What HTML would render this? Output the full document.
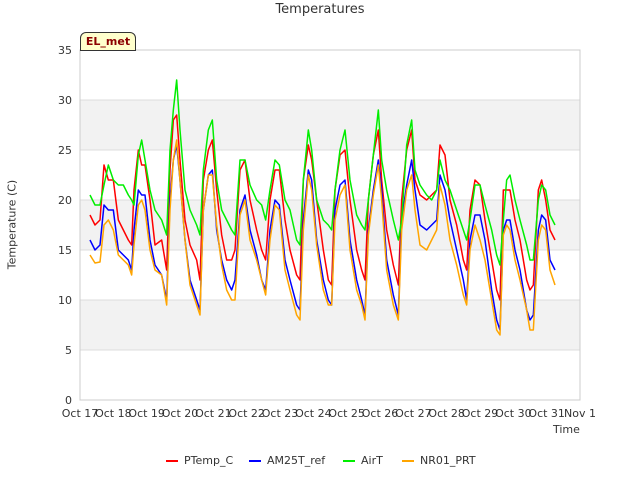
<!DOCTYPE html>
<html><head><meta charset="utf-8"><style>
body{margin:0;background:#fff;font-family:"Liberation Sans","DejaVu Sans",sans-serif}
</style></head><body>
<svg id="c" width="640" height="480" xmlns="http://www.w3.org/2000/svg" font-family="DejaVu Sans, Liberation Sans, sans-serif"></svg>
<script>
const times=[0.3,0.45,0.6,0.72,0.85,1.0,1.15,1.3,1.45,1.55,1.62,1.75,1.85,1.95,2.1,2.25,2.45,2.6,2.7,2.8,2.9,3.0,3.15,3.3,3.5,3.6,3.7,3.85,3.97,4.1,4.25,4.4,4.55,4.65,4.8,4.95,5.1,5.3,5.45,5.57,5.7,5.85,5.98,6.15,6.3,6.5,6.6,6.7,6.85,6.95,7.1,7.3,7.45,7.55,7.65,7.8,7.95,8.1,8.3,8.45,8.55,8.65,8.8,8.95,9.05,9.2,9.4,9.55,9.65,9.8,9.95,10.05,10.2,10.4,10.55,10.7,10.8,10.95,11.1,11.3,11.5,11.6,11.7,11.85,12.0,12.15,12.35,12.5,12.6,12.7,12.8,12.9,13.05,13.2,13.4,13.5,13.6,13.75,13.85,13.97,14.1,14.25];
const ptemp=[18.5,17.5,18,23.5,22,22,18,17,16,15.5,21,25,23.5,23.5,20,15.5,16,13,23,28,28.5,24,18,15.5,14,12,22,25,26,21,16.5,14,14,15,23,24,20,17,15,14,20,23,23,18,15,12.5,12,22,25.5,24,20,15,12,11.5,21,24.5,25,20,15,13,12,20,24.5,27,22,17,13.5,11.5,20,25,27,22,20.5,20,20.5,21,25.5,24.5,20,17.5,14,13,19,22,21.5,18,14,11,10,21,21,21,18,16,12,11,11.5,21,22,20,17,16];
const am25t=[16,15,15.5,19.5,19,19,15,14.5,14,13,17,21,20.5,20.5,16,13.5,12.5,10,20,24,25.5,22,16,12,10,9,19,22.5,23,17,14,12,11,12,19,20.5,17,14.5,12,11,17,20,19.5,14,12,9.5,9,18,23,22,16,12,10,9.5,19,21.5,22,16,12,10,8.5,17,21,24,21,14,10.5,8.5,18,21.5,24,21,17.5,17,17.5,18,22.5,21,18,15,12,10,16,18.5,18.5,16,11,8,7,17,18,18,15,13,9,8,8.5,17,18.5,18,14,13];
const airt=[20.5,19.5,19.5,21.5,23.5,22,21.5,21.5,20.5,20,19.5,24.5,26,24,21,19,18,16.5,25,29,32,27,21,19,17.5,16.5,23,27,28,22,19,18,17,16.5,24,24,21.5,20,19.5,18,21,24,23.5,20,19,16,15.5,22,27,25,20,18,17.5,17,21,25,27,22,18.5,17.5,17,20,24.5,29,24,21,18,16,18,25.5,28,23,21.5,20.5,20,21,24,22,21,19,17,16,18,21.5,21.5,19.5,17,14.5,13.5,18,22,22.5,20,18,15.5,14,14,20,21.5,21,18.5,17.5];
const nr01=[14.5,13.7,13.8,17.5,18,17,14.5,14,13.5,12.5,15.5,19.5,20,19,15,13,12.5,9.5,19,24,26,22,16,11.5,9.5,8.5,19,22.5,22.5,17.5,13.5,11,10,10,18.5,20,16,14,12,10.5,16,19.5,19,13,11,8.5,8,17,22.5,21,15.5,11,9.5,9.5,18,20.5,21.5,15,11,9.5,8,16.5,20.5,23.5,20,13,9.5,8,17,21,22.5,19,15.5,15,16,17,21.5,19.5,16,13.5,10.5,9.5,15,17.5,16,14,10,7,6.5,16.5,17.5,17,14,12,9,7,7,16,17.5,17,13,11.5];
const xTicks=["Oct 17","Oct 18","Oct 19","Oct 20","Oct 21","Oct 22","Oct 23","Oct 24","Oct 25","Oct 26","Oct 27","Oct 28","Oct 29","Oct 30","Oct 31","Nov 1"];
const yTicks=[0,5,10,15,20,25,30,35];
const L=80,R=580,T=50,B=400;
const xs=d=>L+d*(R-L)/15, ys=v=>B-v*(B-T)/35;
const svg=document.getElementById('c');const NS='http://www.w3.org/2000/svg';
function mk(tag,attrs,parent){const e=document.createElementNS(NS,tag);for(const k in attrs)e.setAttribute(k,attrs[k]);(parent||svg).appendChild(e);return e;}
for(let i=0;i<yTicks.length-1;i++){if(i%2===1){const b=mk('rect',{x:L,y:ys(yTicks[i+1]),width:R-L,height:ys(yTicks[i])-ys(yTicks[i+1]),fill:'#f2f2f2'});

}}
yTicks.forEach(v=>{const g=mk('line',{x1:L,x2:R,y1:ys(v),y2:ys(v),stroke:'#dcdcdc','stroke-width':1});


const t=mk('text',{x:L-8,y:ys(v)+4,'text-anchor':'end','font-size':11,fill:'#333'});t.textContent=v;

});
const fr=mk('rect',{x:L,y:T,width:R-L,height:B-T,fill:'none',stroke:'#ccc'});


xTicks.forEach((s,i)=>{const t=mk('text',{x:xs(i),y:B+17,'text-anchor':'middle','font-size':11,fill:'#333'});t.textContent=s;

});
const series=[['ptemp',ptemp,'#ff0000'],['am25t',am25t,'#0000ff'],['airt',airt,'#00ee00'],['nr01',nr01,'#ffa500']];
series.forEach(([id,vals,col])=>{const p=mk('polyline',{points:times.map((t,i)=>xs(t)+','+ys(vals[i])).join(' '),fill:'none',stroke:col,'stroke-width':1.5,'stroke-linejoin':'round'});

});
</script>
<div style="position:absolute;left:0;top:0;width:640px;height:480px;pointer-events:none;font-family:'DejaVu Sans','Liberation Sans',sans-serif">
<div style="position:absolute;top:2px;width:640px;text-align:center;font-size:13px;color:#333">Temperatures</div>
<div style="position:absolute;left:-48px;top:218px;width:120px;text-align:center;font-size:11px;color:#333;transform:rotate(-90deg)">Temperature (C)</div>
<div style="position:absolute;left:553px;top:423px;font-size:11px;color:#333">Time</div>
<div style="position:absolute;left:80px;top:32px;width:54px;height:17px;background:#ffffcc;border:1px solid #333;border-radius:6px 6px 0 0;font-size:11px;font-weight:bold;color:#8b0000;text-align:center;line-height:17px">EL_met</div>
<div style="position:absolute;top:454px;left:166px;font-size:11px;color:#333;white-space:nowrap">
<span style="position:absolute;left:0"><span style="display:inline-block;width:12px;height:2px;background:#f00;vertical-align:middle;margin-right:6px"></span>PTemp_C</span>
<span style="position:absolute;left:83px"><span style="display:inline-block;width:12px;height:2px;background:#00f;vertical-align:middle;margin-right:6px"></span>AM25T_ref</span>
<span style="position:absolute;left:177px"><span style="display:inline-block;width:12px;height:2px;background:#0e0;vertical-align:middle;margin-right:6px"></span>AirT</span>
<span style="position:absolute;left:236px"><span style="display:inline-block;width:12px;height:2px;background:#ffa500;vertical-align:middle;margin-right:6px"></span>NR01_PRT</span>
</div></div>
</body></html>
